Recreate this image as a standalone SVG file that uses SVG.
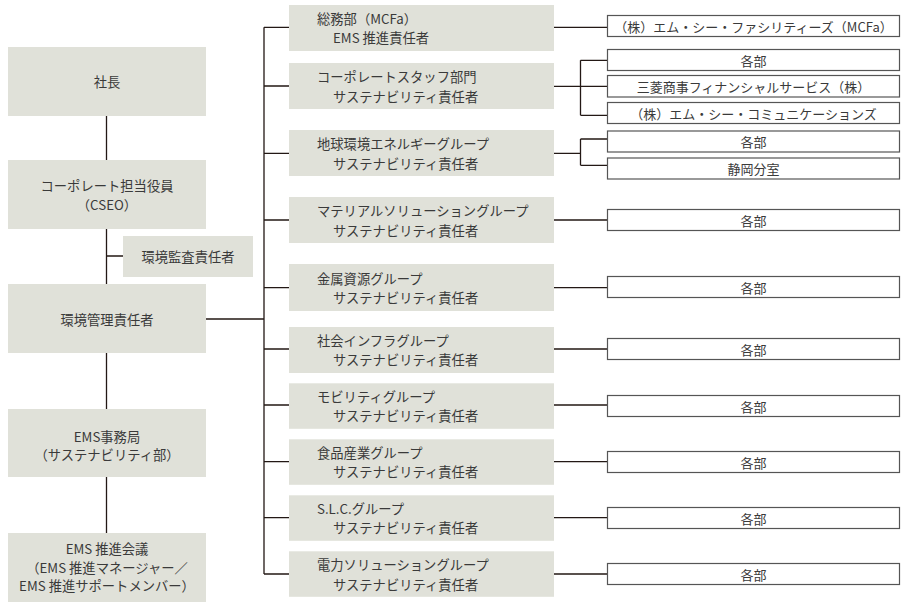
<svg xmlns="http://www.w3.org/2000/svg" width="907" height="610" viewBox="0 0 907 610">
<style>
.g{fill:#e0e1d9;stroke:none}
.w{fill:#fff;stroke:#555;stroke-width:1.2}
text{font-family:"Noto Sans CJK JP","Noto Sans",sans-serif;font-size:13.3px;fill:#3a3a3a;dominant-baseline:central}
.c{text-anchor:middle}
.s{font-size:13px}
.ln{stroke:#231815;stroke-width:1.3;fill:none}
</style>
<rect width="907" height="610" fill="#fff"/>
<g id="connectors">
<path class="ln" d="M106.5 116V160M106.5 229V284M106.5 256H123M106.5 353V409M106.5 477V533"/>
<path class="ln" d="M206 319H264M264 27.3V574"/>
<path class="ln" d="M264 27.3H289M264 86H289M264 153.3H289M264 220H289M264 287.7H289M264 349H289M264 405H289M264 461.7H289M264 517.7H289M264 574H289"/>
<path class="ln" d="M554 27.3H607.5M554 86.3H607.5M580.5 60.3V115.3M580.5 60.3H607.5M580.5 115.3H607.5M554 153.3H580.5M580.5 139V165.3M580.5 139H607.5M580.5 165.3H607.5M554 220H607.5M554 287.7H607.5M554 349H607.5M554 405H607.5M554 461.7H607.5M554 517.7H607.5M554 574H607.5"/>
</g>
<g id="n-shacho"><rect class="g" x="8" y="47" width="198" height="69"/><text class="c" x="107" y="81">社長</text></g>
<g id="n-cseo"><rect class="g" x="8" y="160" width="198" height="69"/><text class="c" x="107" y="185">コーポレート担当役員</text><text class="c" x="107" y="204">（CSEO）</text></g>
<g id="n-kansa"><rect class="g" x="123" y="236" width="130" height="41"/><text class="c" x="188" y="256">環境監査責任者</text></g>
<g id="n-kanri"><rect class="g" x="8" y="284" width="198" height="69"/><text class="c" x="107" y="319">環境管理責任者</text></g>
<g id="n-jimukyoku"><rect class="g" x="8" y="409" width="198" height="68"/><text class="c" x="107" y="436">EMS事務局</text><text class="c" x="107" y="454">（サステナビリティ部）</text></g>
<g id="n-kaigi"><rect class="g" x="8" y="533" width="198" height="69"/><text class="c" x="107" y="548">EMS 推進会議</text><text class="c" x="107" y="567">（EMS 推進マネージャー／</text><text class="c" x="107" y="585">EMS 推進サポートメンバー）</text></g>

<g id="m1"><rect class="g" x="289" y="5" width="265" height="46"/><text x="317" y="18">総務部（MCFa）</text><text x="333" y="37.5">EMS 推進責任者</text></g>
<g id="m2"><rect class="g" x="289" y="63" width="265" height="46"/><text x="317" y="76.5">コーポレートスタッフ部門</text><text x="333" y="96">サステナビリティ責任者</text></g>
<g id="m3"><rect class="g" x="289" y="130" width="265" height="46"/><text x="317" y="143.5">地球環境エネルギーグループ</text><text x="333" y="163">サステナビリティ責任者</text></g>
<g id="m4"><rect class="g" x="289" y="197" width="265" height="46"/><text x="317" y="210.5">マテリアルソリューショングループ</text><text x="333" y="230">サステナビリティ責任者</text></g>
<g id="m5"><rect class="g" x="289" y="264" width="265" height="47"/><text x="317" y="278">金属資源グループ</text><text x="333" y="297.5">サステナビリティ責任者</text></g>
<g id="m6"><rect class="g" x="289" y="327" width="265" height="46"/><text x="317" y="340">社会インフラグループ</text><text x="333" y="359.5">サステナビリティ責任者</text></g>
<g id="m7"><rect class="g" x="289" y="383.3" width="265" height="45.5"/><text x="317" y="396">モビリティグループ</text><text x="333" y="415.5">サステナビリティ責任者</text></g>
<g id="m8"><rect class="g" x="289" y="439.3" width="265" height="45.5"/><text x="317" y="452">食品産業グループ</text><text x="333" y="471.5">サステナビリティ責任者</text></g>
<g id="m9"><rect class="g" x="289" y="495.3" width="265" height="45.5"/><text x="317" y="508">S.L.C.グループ</text><text x="333" y="527.5">サステナビリティ責任者</text></g>
<g id="m10"><rect class="g" x="289" y="551.3" width="265" height="45.5"/><text x="317" y="564.5">電力ソリューショングループ</text><text x="333" y="584">サステナビリティ責任者</text></g>

<g id="r1"><rect class="w" x="607.5" y="15.5" width="292" height="21"/><text class="c s" x="753.5" y="26">（株）エム・シー・ファシリティーズ（MCFa）</text></g>
<g id="r2"><rect class="w" x="607.5" y="49.5" width="292" height="21"/><text class="c s" x="753.5" y="60">各部</text></g>
<g id="r3"><rect class="w" x="607.5" y="75.5" width="292" height="21.5"/><text class="c s" x="753.5" y="86.3">三菱商事フィナンシャルサービス（株）</text></g>
<g id="r4"><rect class="w" x="607.5" y="102.5" width="292" height="21"/><text class="c s" x="753.5" y="113">（株）エム・シー・コミュニケーションズ</text></g>
<g id="r5"><rect class="w" x="607.5" y="131" width="292" height="21"/><text class="c s" x="753.5" y="141.5">各部</text></g>
<g id="r6"><rect class="w" x="607.5" y="158" width="292" height="21"/><text class="c s" x="753.5" y="168.5">静岡分室</text></g>
<g id="r7"><rect class="w" x="607.5" y="209.5" width="292" height="21"/><text class="c s" x="753.5" y="220">各部</text></g>
<g id="r8"><rect class="w" x="607.5" y="276.5" width="292" height="21"/><text class="c s" x="753.5" y="287">各部</text></g>
<g id="r9"><rect class="w" x="607.5" y="338.5" width="292" height="21"/><text class="c s" x="753.5" y="349">各部</text></g>
<g id="r10"><rect class="w" x="607.5" y="395.5" width="292" height="21"/><text class="c s" x="753.5" y="406">各部</text></g>
<g id="r11"><rect class="w" x="607.5" y="451.5" width="292" height="21"/><text class="c s" x="753.5" y="462">各部</text></g>
<g id="r12"><rect class="w" x="607.5" y="507.5" width="292" height="21"/><text class="c s" x="753.5" y="518">各部</text></g>
<g id="r13"><rect class="w" x="607.5" y="563.5" width="292" height="21"/><text class="c s" x="753.5" y="574">各部</text></g>
</svg>
